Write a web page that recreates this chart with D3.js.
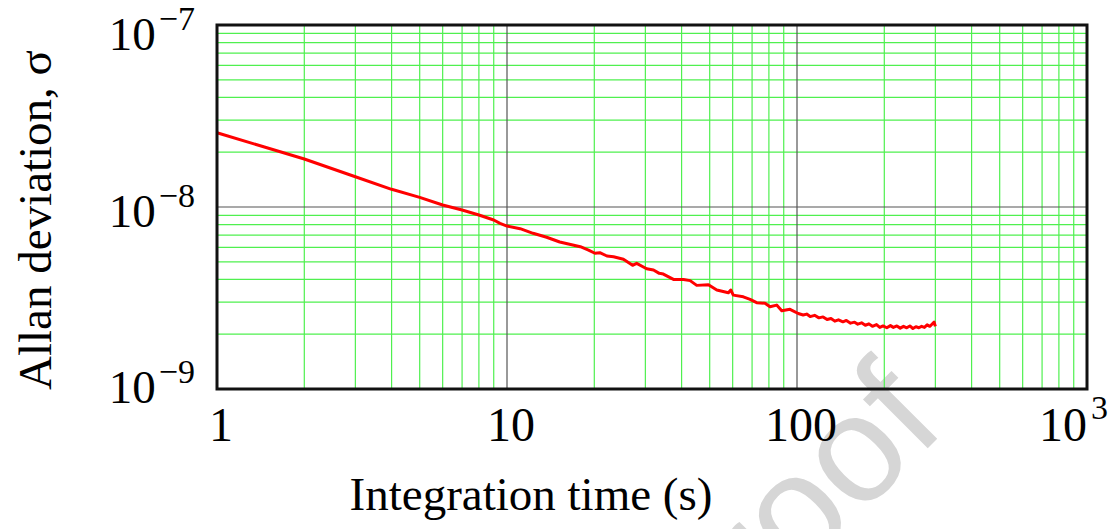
<!DOCTYPE html>
<html>
<head>
<meta charset="utf-8">
<script src="https://cdn.jsdelivr.net/npm/d3@7"></script>
<style>
  body { margin: 0; background: #fff; }
  svg { display: block; }
  text { font-family: "Liberation Serif", "DejaVu Serif", serif; fill: #000; }
</style>
</head>
<body>
<div class="chart"></div>
<script>
// integration time (s) and Allan deviation
let tau = [1, 2, 3, 4, 5, 6, 7, 8, 9, 9.46, 10.0, 11.1, 12.3, 13.7, 15.2, 17.9, 19.1,
  20.1, 20.9, 22.1, 23.3, 25.2, 27.1, 28.0, 30.3, 32.0, 33.5, 34.6, 37.5, 40.6, 42.8,
  45.1, 49.5, 52.9, 58.0, 59.1, 60.3, 65.3, 68.9, 72.6, 77.6, 80.7, 85.1, 88.6, 94.6,
  101, 105, 108, 111, 115, 119, 123, 127, 131, 135, 139, 144, 148, 153, 158, 162, 167,
  172, 177, 182, 188, 193, 198, 204, 210, 215, 221, 227, 233, 239, 245, 251, 257, 263,
  269, 275, 281, 287, 292, 297, 300];
let sigma = [2.56e-8, 1.835e-8, 1.467e-8, 1.251e-8, 1.13e-8, 1.026e-8, 9.63e-9, 9.04e-9,
  8.48e-9, 8.13e-9, 7.86e-9, 7.6e-9, 7.17e-9, 6.82e-9, 6.42e-9, 6.05e-9, 5.8e-9,
  5.57e-9, 5.61e-9, 5.38e-9, 5.33e-9, 5.16e-9, 4.78e-9, 4.9e-9, 4.58e-9, 4.51e-9,
  4.32e-9, 4.28e-9, 4.0e-9, 4.0e-9, 3.94e-9, 3.71e-9, 3.74e-9, 3.5e-9, 3.38e-9, 3.5e-9,
  3.28e-9, 3.21e-9, 3.11e-9, 2.98e-9, 2.96e-9, 2.83e-9, 2.89e-9, 2.69e-9, 2.74e-9,
  2.6e-9, 2.55e-9, 2.58e-9, 2.5e-9, 2.54e-9, 2.46e-9, 2.49e-9, 2.41e-9, 2.44e-9, 2.36e-9,
  2.4e-9, 2.34e-9, 2.38e-9, 2.3e-9, 2.33e-9, 2.27e-9, 2.31e-9, 2.24e-9, 2.28e-9, 2.21e-9,
  2.26e-9, 2.18e-9, 2.22e-9, 2.17e-9, 2.23e-9, 2.18e-9, 2.22e-9, 2.16e-9, 2.21e-9,
  2.17e-9, 2.22e-9, 2.15e-9, 2.2e-9, 2.17e-9, 2.21e-9, 2.18e-9, 2.25e-9, 2.21e-9,
  2.27e-9, 2.33e-9, 2.21e-9];

let xTickVals = [1, 10, 100, 1000];
let xTickBase = ["1", "10", "100", "10"];
let xTickExp = ["", "", "", "3"];
let yTickVals = [1e-9, 1e-8, 1e-7];
let yTickBase = ["10", "10", "10"];
let yTickExp = ["\u22129", "\u22128", "\u22127"];

let svgWidth = 1120;
let svgHeight = 529;

let margin = { top: 25, right: 33, bottom: 140, left: 217 };
let width = svgWidth - margin.left - margin.right;
let height = svgHeight - margin.top - margin.bottom;

let svg = d3.select(".chart")
  .append("svg")
  .attr("width", svgWidth)
  .attr("height", svgHeight);

// watermark sits under the plot
svg.append("text")
  .attr("transform", "translate(948, 428) rotate(-45)")
  .attr("text-anchor", "end")
  .style("font-family", "'Liberation Sans', Arial, sans-serif")
  .style("font-size", "152px")
  .style("fill", "#d6d6d6")
  .text("proof");

let chartGroup = svg.append("g")
  .attr("transform", `translate(${margin.left}, ${margin.top})`);

let xScale = d3.scaleLog().domain([1, 1000]).range([0, width]);
let yScale = d3.scaleLog().domain([1e-9, 1e-7]).range([height, 0]);

function isMajor(v) {
  let e = Math.log10(v);
  return Math.abs(e - Math.round(e)) < 1e-9;
}

// minor grid (green) then major grid (dark)
let xGrid = xScale.ticks().filter(v => v > 1 && v < 1000);
let yGrid = yScale.ticks().filter(v => v > 1e-9 * 1.001 && v < 1e-7 * 0.999);

chartGroup.selectAll(".vminor")
  .data(xGrid.filter(v => !isMajor(v)))
  .enter()
  .append("line")
  .attr("x1", d => xScale(d)).attr("x2", d => xScale(d))
  .attr("y1", 0).attr("y2", height)
  .attr("stroke", "#4ff04f")
  .attr("stroke-width", 1.2);

chartGroup.selectAll(".hminor")
  .data(yGrid.filter(v => !isMajor(v)))
  .enter()
  .append("line")
  .attr("x1", 0).attr("x2", width)
  .attr("y1", d => yScale(d)).attr("y2", d => yScale(d))
  .attr("stroke", "#4ff04f")
  .attr("stroke-width", 1.2);

chartGroup.selectAll(".vmajor")
  .data(xGrid.filter(isMajor))
  .enter()
  .append("line")
  .attr("x1", d => xScale(d)).attr("x2", d => xScale(d))
  .attr("y1", 0).attr("y2", height)
  .attr("stroke", "#555")
  .attr("stroke-width", 1.2);

chartGroup.selectAll(".hmajor")
  .data(yGrid.filter(isMajor))
  .enter()
  .append("line")
  .attr("x1", 0).attr("x2", width)
  .attr("y1", d => yScale(d)).attr("y2", d => yScale(d))
  .attr("stroke", "#555")
  .attr("stroke-width", 1.2);

// the Allan deviation curve
let points = tau.map((t, i) => [t, sigma[i]]);
let line = d3.line()
  .x(d => xScale(d[0]))
  .y(d => yScale(d[1]));

chartGroup.append("path")
  .datum(points)
  .attr("d", line)
  .attr("fill", "none")
  .attr("stroke", "#ff0000")
  .attr("stroke-width", 3)
  .attr("stroke-linejoin", "round");

// frame
chartGroup.append("rect")
  .attr("x", 0).attr("y", 0)
  .attr("width", width).attr("height", height)
  .attr("fill", "none")
  .attr("stroke", "#111")
  .attr("stroke-width", 3);

// x tick labels
xTickVals.forEach(function(v, i) {
  let t = chartGroup.append("text")
    .attr("x", xScale(v) + 4)
    .attr("y", height + 52)
    .attr("text-anchor", "middle")
    .style("font-size", "48px");
  t.append("tspan").text(xTickBase[i]);
  if (xTickExp[i]) {
    t.attr("x", xScale(v) + 21).attr("text-anchor", "end");
    t.append("tspan")
      .attr("dx", 4)
      .attr("dy", -22)
      .style("font-size", "34px")
      .text(xTickExp[i]);
  }
});

// y tick labels
yTickVals.forEach(function(v, i) {
  let y = Math.min(Math.max(yScale(v) + 20, 25), height + 14);
  let t = chartGroup.append("text")
    .attr("x", -22)
    .attr("y", y)
    .attr("text-anchor", "end")
    .style("font-size", "47px");
  t.append("tspan").text(yTickBase[i]);
  t.append("tspan")
    .attr("dx", 3)
    .attr("dy", -20)
    .style("font-size", "34px")
    .text(yTickExp[i]);
});

// axis titles
svg.append("text")
  .attr("transform", "translate(51, 220) rotate(-90)")
  .attr("text-anchor", "middle")
  .style("font-size", "47px")
  .text("Allan deviation, \u03c3");

svg.append("text")
  .attr("x", 531)
  .attr("y", 510)
  .attr("text-anchor", "middle")
  .style("font-size", "47px")
  .text("Integration time (s)");
</script>
</body>
</html>
